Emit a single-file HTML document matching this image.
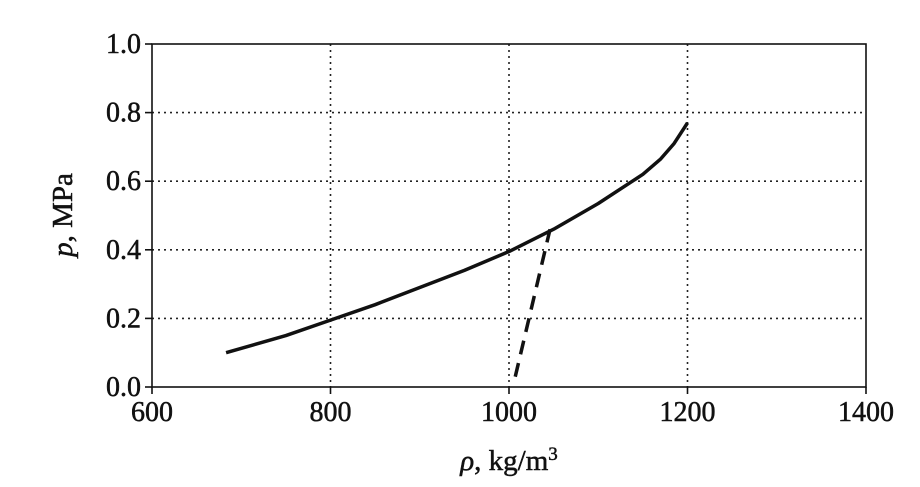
<!DOCTYPE html>
<html><head><meta charset="utf-8">
<style>
html,body{margin:0;padding:0;background:#fff;}
svg{display:block;}
text{font-family:"Liberation Serif",serif;fill:#111;stroke:#111;stroke-width:0.5;}
</style></head>
<body>
<svg id="chart" width="920" height="487" viewBox="0 0 920 487" xmlns="http://www.w3.org/2000/svg"></svg>
<script>
const xTicks = [600, 800, 1000, 1200, 1400];
const yTicks = [0.0, 0.2, 0.4, 0.6, 0.8, 1.0];
const solidRho = [683, 750, 800, 850, 900, 950, 1000, 1050, 1100, 1150, 1170, 1185, 1200];
const solidP = [0.10, 0.15, 0.195, 0.24, 0.29, 0.34, 0.395, 0.46, 0.535, 0.62, 0.665, 0.71, 0.77];
const dashRho = [1007, 1046];
const dashP = [0.03, 0.46];

const L = 152, R = 866, T = 44, B = 387;
const xs = v => L + (v - 600) / 800 * (R - L);
const ys = v => B - v * (B - T);
const svg = document.getElementById('chart');
const NS = 'http://www.w3.org/2000/svg';
function mk(tag, attrs) {
  const e = document.createElementNS(NS, tag);
  for (const k in attrs) e.setAttribute(k, attrs[k]);
  svg.appendChild(e);
  return e;
}
xTicks.slice(1, -1).forEach(v => {
  const g = mk('line', {x1: xs(v), x2: xs(v), y1: T, y2: B, stroke: '#222', 'stroke-width': 1.6, 'stroke-dasharray': '2,4'});
  
  
});
yTicks.slice(1, -1).forEach(v => {
  const g = mk('line', {x1: L, x2: R, y1: ys(v), y2: ys(v), stroke: '#222', 'stroke-width': 1.6, 'stroke-dasharray': '2,4'});
  
  
});
const fr = mk('rect', {x: L, y: T, width: R - L, height: B - T, fill: 'none', stroke: '#111', 'stroke-width': 1.6});


xTicks.forEach(v => {
  const t = mk('line', {x1: xs(v), x2: xs(v), y1: B, y2: B + 7, stroke: '#111', 'stroke-width': 1.6});
  
  
  const lb = mk('text', {x: xs(v), y: B + 34, 'text-anchor': 'middle', 'font-size': 28});
  lb.textContent = v;
  
  
});
yTicks.forEach(v => {
  const t = mk('line', {x1: L - 7, x2: L, y1: ys(v), y2: ys(v), stroke: '#111', 'stroke-width': 1.6});
  
  
  const lb = mk('text', {x: L - 11, y: ys(v) + 9, 'text-anchor': 'end', 'font-size': 28});
  lb.textContent = v.toFixed(1);
  
  
});
const xt = mk('text', {x: 509, y: 470, 'text-anchor': 'middle', 'font-size': 29});
xt.innerHTML = '<tspan font-style="italic">ρ</tspan>, kg/m<tspan dy="-10" font-size="19">3</tspan>';


const yt = mk('text', {x: 0, y: 0, 'text-anchor': 'middle', 'font-size': 29, transform: 'translate(72,215) rotate(-90)'});
yt.innerHTML = '<tspan font-style="italic">p</tspan>, MPa';


const sp = mk('polyline', {points: solidRho.map((r, i) => xs(r) + ',' + ys(solidP[i])).join(' '), fill: 'none', stroke: '#111', 'stroke-width': 3.5, 'stroke-linejoin': 'round'});


const dp = mk('polyline', {points: dashRho.map((r, i) => xs(r) + ',' + ys(dashP[i])).join(' '), fill: 'none', stroke: '#111', 'stroke-width': 3.5, 'stroke-dasharray': '14,9'});


</script>
</body></html>
